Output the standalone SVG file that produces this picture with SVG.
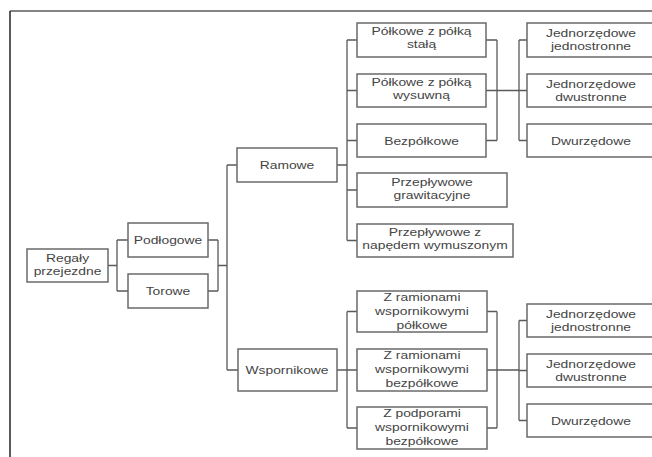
<svg xmlns="http://www.w3.org/2000/svg" width="652" height="457" viewBox="0 0 652 457">
<style>
.box{fill:#fff;stroke:#6a6a6a;stroke-width:1.5}
.t{font-family:"Liberation Sans",Arial,sans-serif;font-size:10.5px;fill:#444;text-anchor:middle}
.c{fill:none;stroke:#5a5a5a;stroke-width:1.3}
</style>
<rect x="0" y="0" width="652" height="457" fill="#fff"/>
<g id="frame">
<line x1="10" y1="11" x2="652" y2="11" stroke="#5a5a5a" stroke-width="1.5"/>
<line x1="10" y1="11" x2="10" y2="457" stroke="#222" stroke-width="1.5"/>
</g>
<g id="connectors" class="c">
<path d="M108 265.5H117M117 240V291M117 240H128M117 291H128"/>
<path d="M208 240H218M208 291H218M218 240V291M218 265.5H227M227 165V370M227 165H237M227 370H238"/>
<path d="M337 165H347M347 40V240.5M347 40H357M347 90.5H357M347 140.5H357M347 190H357M347 240.5H357"/>
<path d="M486 40H497M486 140.5H497M497 40V140.5M486 90.5H519M519 40V140.5M519 40H527M519 90.5H527M519 140.5H527"/>
<path d="M337 370H347M347 311.5V428M347 311.5H357M347 370H357M347 428H357"/>
<path d="M487 311.5H497M487 428H497M497 311.5V428M487 370H519M519 320.5V420.5M519 320.5H527M519 370.5H527M519 420.5H527"/>
</g>
<g id="regaly"><rect class="box" x="27" y="249" width="81" height="33"/>
<text class="t" transform="translate(67.5,262) scale(1.32,1)"><tspan x="0" y="0">Regały</tspan><tspan x="0" dy="13.5">przejezdne</tspan></text></g>
<g id="podlogowe"><rect class="box" x="128" y="223" width="80" height="34"/>
<text class="t" transform="translate(168,244) scale(1.32,1)">Podłogowe</text></g>
<g id="torowe"><rect class="box" x="128" y="274" width="80" height="34"/>
<text class="t" transform="translate(168,295) scale(1.32,1)">Torowe</text></g>
<g id="ramowe"><rect class="box" x="237" y="148" width="100" height="34"/>
<text class="t" transform="translate(287,169) scale(1.32,1)">Ramowe</text></g>
<g id="wspornikowe"><rect class="box" x="238" y="349" width="99" height="42"/>
<text class="t" transform="translate(287,374) scale(1.32,1)">Wspornikowe</text></g>
<g id="polkowe-stala"><rect class="box" x="357" y="23" width="129" height="34"/>
<text class="t" transform="translate(421.5,34.5) scale(1.32,1)"><tspan x="0" y="0">Półkowe z półką</tspan><tspan x="0" dy="13.5">stałą</tspan></text></g>
<g id="polkowe-wysuwna"><rect class="box" x="357" y="74" width="129" height="33"/>
<text class="t" transform="translate(421.5,85.5) scale(1.32,1)"><tspan x="0" y="0">Półkowe z półką</tspan><tspan x="0" dy="13.5">wysuwną</tspan></text></g>
<g id="bezpolkowe"><rect class="box" x="357" y="124" width="129" height="33"/>
<text class="t" transform="translate(421.5,144.5) scale(1.32,1)">Bezpółkowe</text></g>
<g id="przeplywowe-graw"><rect class="box" x="357" y="173" width="150" height="34"/>
<text class="t" transform="translate(432,185.5) scale(1.32,1)"><tspan x="0" y="0">Przepływowe</tspan><tspan x="0" dy="13.5">grawitacyjne</tspan></text></g>
<g id="przeplywowe-nap"><rect class="box" x="357" y="224" width="156" height="33"/>
<text class="t" transform="translate(435,236) scale(1.32,1)"><tspan x="0" y="0">Przepływowe z</tspan><tspan x="0" dy="13.5">napędem wymuszonym</tspan></text></g>
<g id="jj1"><rect class="box" x="527" y="23" width="130" height="34"/>
<text class="t" transform="translate(591,37) scale(1.32,1)"><tspan x="0" y="0">Jednorzędowe</tspan><tspan x="0" dy="13.5">jednostronne</tspan></text></g>
<g id="jd1"><rect class="box" x="527" y="74" width="130" height="33"/>
<text class="t" transform="translate(591,87.5) scale(1.32,1)"><tspan x="0" y="0">Jednorzędowe</tspan><tspan x="0" dy="13.5">dwustronne</tspan></text></g>
<g id="dw1"><rect class="box" x="527" y="124" width="130" height="33"/>
<text class="t" transform="translate(591,144.5) scale(1.32,1)">Dwurzędowe</text></g>
<g id="zr-polkowe"><rect class="box" x="357" y="291" width="130" height="41"/>
<text class="t" transform="translate(422,300.5) scale(1.32,1)"><tspan x="0" y="0">Z ramionami</tspan><tspan x="0" dy="14.2">wspornikowymi</tspan><tspan x="0" dy="14.2">półkowe</tspan></text></g>
<g id="zr-bezpolkowe"><rect class="box" x="357" y="349" width="130" height="42"/>
<text class="t" transform="translate(422,359) scale(1.32,1)"><tspan x="0" y="0">Z ramionami</tspan><tspan x="0" dy="14.2">wspornikowymi</tspan><tspan x="0" dy="14.2">bezpółkowe</tspan></text></g>
<g id="zp-bezpolkowe"><rect class="box" x="357" y="407" width="130" height="42"/>
<text class="t" transform="translate(422,417) scale(1.32,1)"><tspan x="0" y="0">Z podporami</tspan><tspan x="0" dy="14.2">wspornikowymi</tspan><tspan x="0" dy="14.2">bezpółkowe</tspan></text></g>
<g id="jj2"><rect class="box" x="527" y="304" width="130" height="33"/>
<text class="t" transform="translate(591,317.5) scale(1.32,1)"><tspan x="0" y="0">Jednorzędowe</tspan><tspan x="0" dy="13.5">jednostronne</tspan></text></g>
<g id="jd2"><rect class="box" x="527" y="354" width="130" height="33"/>
<text class="t" transform="translate(591,367.5) scale(1.32,1)"><tspan x="0" y="0">Jednorzędowe</tspan><tspan x="0" dy="13.5">dwustronne</tspan></text></g>
<g id="dw2"><rect class="box" x="527" y="404" width="130" height="33"/>
<text class="t" transform="translate(591,424.5) scale(1.32,1)">Dwurzędowe</text></g>
</svg>
